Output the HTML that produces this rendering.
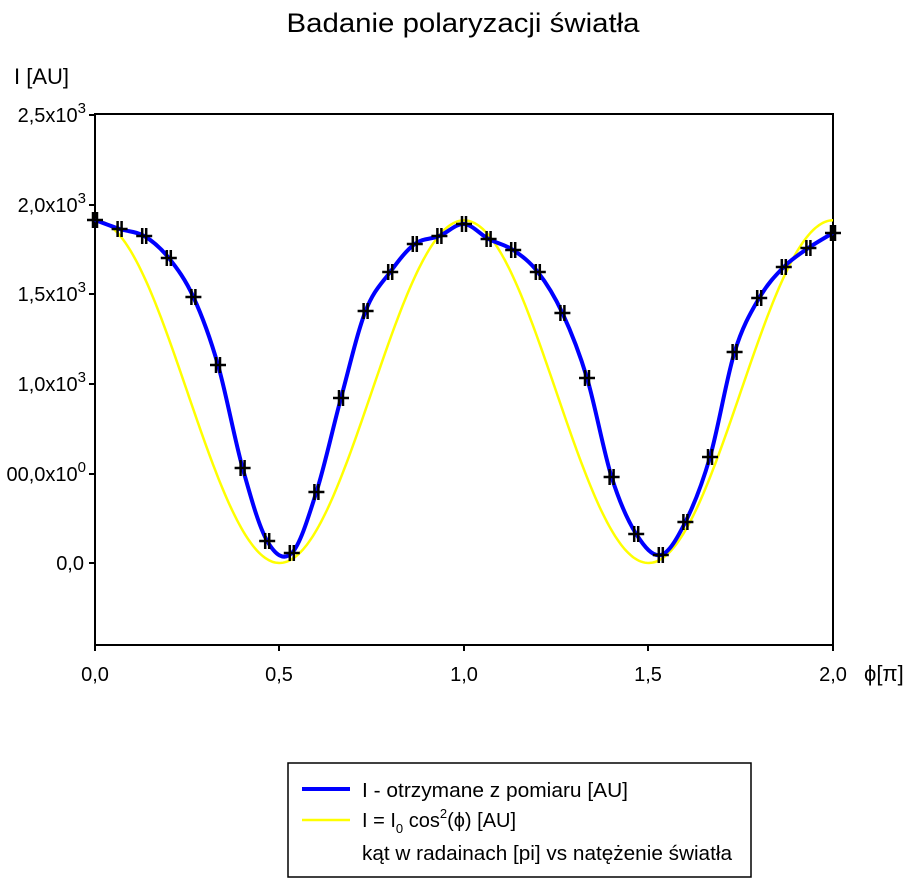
<!DOCTYPE html>
<html><head><meta charset="utf-8"><style>
body{margin:0;background:#fff;}
svg text{font-family:"Liberation Sans",sans-serif;fill:#000;}
</style></head><body>
<svg id="s" width="912" height="884" viewBox="0 0 912 884" xmlns="http://www.w3.org/2000/svg">
<text x="463" y="32" font-size="27" text-anchor="middle" textLength="353" lengthAdjust="spacingAndGlyphs">Badanie polaryzacji światła</text>
<text x="14" y="84" font-size="22">I [AU]</text>
<g font-size="20" text-anchor="end">
<text x="86" y="122">2,5x10<tspan dy="-9" font-size="15">3</tspan></text>
<text x="86" y="212">2,0x10<tspan dy="-9" font-size="15">3</tspan></text>
<text x="86" y="301">1,5x10<tspan dy="-9" font-size="15">3</tspan></text>
<text x="86" y="391">1,0x10<tspan dy="-9" font-size="15">3</tspan></text>
<text x="86" y="481">00,0x10<tspan dy="-9" font-size="15">0</tspan></text>
<text x="84" y="570">0,0</text>
</g>
<g font-size="20" text-anchor="middle">
<text x="95" y="681">0,0</text><text x="279" y="681">0,5</text><text x="464" y="681">1,0</text><text x="648" y="681">1,5</text><text x="833" y="681">2,0</text>
</g>
<text x="864" y="681" font-size="22">ϕ[π]</text>
<rect x="95" y="114" width="738" height="531" fill="none" stroke="#000" stroke-width="2"/>
<g stroke="#000" stroke-width="2">
<line x1="89" y1="115" x2="95" y2="115"/><line x1="89" y1="205" x2="95" y2="205"/><line x1="89" y1="294" x2="95" y2="294"/><line x1="89" y1="384" x2="95" y2="384"/><line x1="89" y1="474" x2="95" y2="474"/><line x1="89" y1="563" x2="95" y2="563"/>
<line x1="95" y1="645" x2="95" y2="651"/><line x1="279" y1="645" x2="279" y2="651"/><line x1="464" y1="645" x2="464" y2="651"/><line x1="648" y1="645" x2="648" y2="651"/><line x1="833" y1="645" x2="833" y2="651"/>
</g>
<path id="yel" fill="none" stroke="#ffff00" stroke-width="2.5"/>
<path id="blu" fill="none" stroke="#0000ff" stroke-width="4"/>
<g id="mk" stroke="#000" stroke-width="2.5"></g>
<rect x="288" y="763" width="463" height="114" fill="#fff" stroke="#000" stroke-width="1.5"/>
<line x1="302" y1="789" x2="350" y2="789" stroke="#0000ff" stroke-width="4"/>
<line x1="302" y1="820" x2="350" y2="820" stroke="#ffff00" stroke-width="2.5"/>
<g font-size="20">
<text x="362" y="797" textLength="266" lengthAdjust="spacingAndGlyphs">I - otrzymane z pomiaru [AU]</text>
<text x="362" y="827">I = I<tspan dy="6" font-size="13">0</tspan><tspan dy="-6"> cos</tspan><tspan dy="-9" font-size="13">2</tspan><tspan dy="9">(ϕ) [AU]</tspan></text>
<text x="362" y="860" textLength="370" lengthAdjust="spacingAndGlyphs">kąt w radainach [pi] vs natężenie światła</text>
</g>
</svg>
<script>
var ys=[220,229,236,258,297,365,468,541,553,492,398,311,272,244,236,224,239,250,272,313,378,477,534,555,522,457,352,298,267,248,233];
var P=ys.map(function(y,i){return [95+i*738/30,y];});
var d="M"+P[0][0]+","+P[0][1];
for(var i=0;i<P.length-1;i++){
 var p0=P[Math.max(i-1,0)],p1=P[i],p2=P[i+1],p3=P[Math.min(i+2,P.length-1)];
 d+=" C"+(p1[0]+(p2[0]-p0[0])/6)+","+(p1[1]+(p2[1]-p0[1])/6)+" "+(p2[0]-(p3[0]-p1[0])/6)+","+(p2[1]-(p3[1]-p1[1])/6)+" "+p2[0]+","+p2[1];
}
document.getElementById("blu").setAttribute("d",d);
var yd="";
for(var x=95;x<=833;x+=2){var phi=(x-95)/369*Math.PI;var c=Math.cos(phi);yd+=(x==95?"M":"L")+x+","+(563-1910*c*c*0.1794).toFixed(1);}
document.getElementById("yel").setAttribute("d",yd);
var g=document.getElementById("mk"),h="";
P.forEach(function(p){h+='<line x1="'+(p[0]-8)+'" y1="'+p[1]+'" x2="'+(p[0]+8)+'" y2="'+p[1]+'"/><line x1="'+(p[0]-2)+'" y1="'+(p[1]-8)+'" x2="'+(p[0]-2)+'" y2="'+(p[1]+8)+'"/><line x1="'+(p[0]+2)+'" y1="'+(p[1]-8)+'" x2="'+(p[0]+2)+'" y2="'+(p[1]+8)+'"/>';});
g.innerHTML=h;
</script>
</body></html>
